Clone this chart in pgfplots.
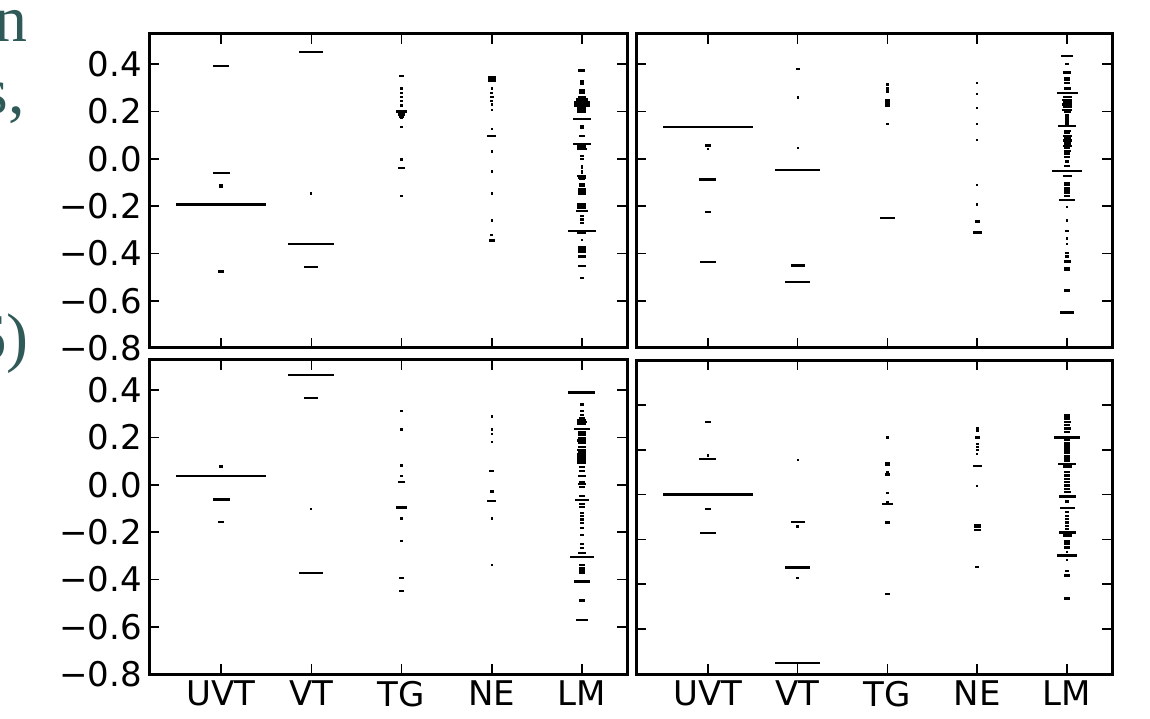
\documentclass[border=0pt]{standalone}
\usepackage{fontspec}
\setmainfont{DejaVu Sans}
\newfontfamily\slidefont{Liberation Serif}
\usepackage{pgfplots}
\pgfplotsset{compat=1.18}
\definecolor{slideteal}{RGB}{47,90,88}
\pgfplotsset{
  panel/.style={
    scale only axis, anchor=south west,
    width=239pt, height=157pt,
    xmin=-0.8, xmax=4.5, ymin=-0.8, ymax=0.528,
    xtick={0,1,2,3,4},
    ytick={-0.8,-0.6,-0.4,-0.2,0,0.2,0.4},
    tick align=inside, xtick pos=both, ytick pos=both,
    xticklabel pos=lower, yticklabel pos=left,
    major tick length=5pt,
    axis line style={line width=1.5pt},
    tick style={line width=0.8pt, black},
    ticklabel style={font=\fontsize{17}{20}\selectfont},
    /pgf/number format/assume math mode=true,
  },
  xlab/.style={xticklabels={UVT,VT,TG,NE,LM}},
  ylab/.style={yticklabels={−0.8,−0.6,−0.4,−0.2,0.0,0.2,0.4}},
  nox/.style={xticklabels={}},
  noy/.style={yticklabels={}},
  strip/.style={draw=none, mark=none,
    error bars/.cd, x dir=both, x explicit, error mark=none,
    error bar style={draw=black, line width=1.15pt, solid}},
}
\begin{document}
\begin{tikzpicture}
\useasboundingbox (0,0) rectangle (575pt,359pt);
\clip (0,0) rectangle (575pt,359pt);
% cropped slide text at left
\node[anchor=base east, inner sep=0, text=slideteal, font=\slidefont\fontsize{33}{36}\selectfont] at (14pt,338pt) {n};
\node[anchor=base east, inner sep=0, text=slideteal, font=\slidefont\fontsize{33}{36}\selectfont] at (12.5pt,302pt) {s,};
\node[anchor=base east, inner sep=0, text=slideteal, font=\slidefont\fontsize{33}{36}\selectfont] at (14.5pt,179pt) {6)};

% ---------------- top left
\begin{axis}[panel, nox, ylab, at={(74.5pt,185pt)}]
\addplot[strip] table[x=x, y=y, x error=e] {
x y e
0 0.393 0.089
0 -0.061 0.095
0 -0.111 0.025
0 -0.119 0.025
0 -0.193 0.50
0 -0.477 0.033
1 0.451 0.133
1 -0.146 0.012
1 -0.360 0.255
1 -0.458 0.078
2 0.349 0.028
2 0.297 0.012
2 0.278 0.012
2 0.261 0.012
2 0.244 0.012
2 0.226 0.012
2 0.200 0.06
2 0.187 0.035
2 0.179 0.025
2 0.173 0.015
2 0.136 0.012
2 -0.003 0.02
2 -0.038 0.04
2 -0.156 0.012
3 0.346 0.045
3 0.336 0.045
3 0.328 0.045
3 0.297 0.012
3 0.278 0.015
3 0.261 0.02
3 0.244 0.015
3 0.230 0.012
3 0.207 0.012
3 0.126 0.012
3 0.097 0.047
3 0.031 0.012
3 -0.053 0.012
3 -0.146 0.012
3 -0.261 0.012
3 -0.321 0.015
3 -0.346 0.035
4 0.374 0.038
4 0.329 0.025
4 0.318 0.025
4 0.289 0.03
4 0.278 0.03
4 0.261 0.04
4 0.251 0.065
4 0.240 0.093
4 0.233 0.093
4 0.226 0.093
4 0.216 0.05
4 0.207 0.05
4 0.199 0.05
4 0.169 0.10
4 0.140 0.025
4 0.131 0.025
4 0.098 0.03
4 0.062 0.098
4 0.052 0.05
4 0.041 0.06
4 0.013 0.02
4 -0.001 0.02
4 -0.030 0.015
4 -0.040 0.015
4 -0.051 0.015
4 -0.061 0.015
4 -0.072 0.05
4 -0.080 0.04
4 -0.086 0.03
4 -0.108 0.035
4 -0.115 0.035
4 -0.129 0.04
4 -0.136 0.04
4 -0.143 0.04
4 -0.150 0.04
4 -0.193 0.05
4 -0.200 0.05
4 -0.207 0.05
4 -0.221 0.065
4 -0.243 0.025
4 -0.257 0.025
4 -0.271 0.025
4 -0.304 0.155
4 -0.313 0.05
4 -0.342 0.012
4 -0.374 0.04
4 -0.384 0.04
4 -0.394 0.04
4 -0.413 0.04
4 -0.454 0.045
4 -0.505 0.025
};
\end{axis}

% ---------------- top right
\begin{axis}[panel, nox, noy, width=238pt, at={(318pt,185pt)}]
\addplot[strip] table[x=x, y=y, x error=e] {
x y e
0 0.135 0.50
0 0.057 0.03
0 0.041 0.015
0 -0.088 0.095
0 -0.226 0.033
0 -0.437 0.093
1 0.379 0.024
1 0.260 0.012
1 0.047 0.012
1 -0.048 0.254
1 -0.451 0.078
1 -0.522 0.137
2 0.314 0.02
2 0.297 0.012
2 0.285 0.012
2 0.247 0.025
2 0.236 0.025
2 0.226 0.03
2 0.148 0.012
2 -0.250 0.087
3 0.320 0.012
3 0.275 0.012
3 0.216 0.012
3 0.148 0.012
3 0.081 0.012
3 -0.112 0.012
3 -0.193 0.012
3 -0.265 0.028
3 -0.312 0.05
4 0.434 0.07
4 0.400 0.025
4 0.365 0.045
4 0.343 0.03
4 0.332 0.03
4 0.322 0.03
4 0.297 0.04
4 0.278 0.117
4 0.261 0.05
4 0.250 0.06
4 0.240 0.05
4 0.230 0.06
4 0.218 0.05
4 0.207 0.06
4 0.197 0.04
4 0.183 0.025
4 0.173 0.025
4 0.162 0.025
4 0.150 0.025
4 0.139 0.10
4 0.119 0.04
4 0.108 0.03
4 0.098 0.05
4 0.088 0.04
4 0.077 0.05
4 0.065 0.04
4 0.055 0.05
4 0.045 0.03
4 0.034 0.04
4 0.023 0.03
4 0.009 0.03
4 -0.011 0.025
4 -0.029 0.03
4 -0.052 0.163
4 -0.072 0.05
4 -0.101 0.035
4 -0.111 0.035
4 -0.122 0.035
4 -0.133 0.035
4 -0.143 0.035
4 -0.157 0.035
4 -0.173 0.093
4 -0.204 0.015
4 -0.261 0.015
4 -0.306 0.025
4 -0.337 0.015
4 -0.359 0.015
4 -0.399 0.02
4 -0.413 0.02
4 -0.434 0.04
4 -0.462 0.03
4 -0.469 0.03
4 -0.557 0.035
4 -0.650 0.076
};
\end{axis}

% ---------------- bottom left
\begin{axis}[panel, xlab, ylab, at={(74.5pt,22pt)}]
\addplot[strip] table[x=x, y=y, x error=e] {
x y e
0 0.078 0.022
0 0.038 0.50
0 -0.062 0.095
0 -0.157 0.033
1 0.464 0.255
1 0.366 0.078
1 -0.101 0.012
1 -0.373 0.133
2 0.312 0.02
2 0.234 0.012
2 0.082 0.012
2 0.038 0.012
2 0.011 0.035
2 -0.096 0.061
2 -0.142 0.012
2 -0.238 0.02
2 -0.394 0.025
2 -0.448 0.025
3 0.289 0.012
3 0.234 0.012
3 0.216 0.012
3 0.180 0.012
3 0.060 0.03
3 -0.028 0.02
3 -0.069 0.05
3 -0.142 0.012
3 -0.338 0.012
4 0.391 0.15
4 0.340 0.025
4 0.312 0.025
4 0.294 0.025
4 0.280 0.03
4 0.272 0.05
4 0.265 0.055
4 0.258 0.05
4 0.235 0.093
4 0.223 0.045
4 0.213 0.045
4 0.199 0.04
4 0.187 0.05
4 0.176 0.04
4 0.159 0.04
4 0.148 0.05
4 0.137 0.04
4 0.128 0.05
4 0.116 0.05
4 0.105 0.05
4 0.095 0.05
4 0.074 0.03
4 0.060 0.03
4 0.038 0.04
4 0.013 0.03
4 0.003 0.04
4 -0.009 0.03
4 -0.048 0.035
4 -0.065 0.078
4 -0.082 0.03
4 -0.094 0.03
4 -0.118 0.02
4 -0.132 0.02
4 -0.146 0.02
4 -0.160 0.02
4 -0.182 0.02
4 -0.213 0.02
4 -0.250 0.025
4 -0.267 0.025
4 -0.288 0.04
4 -0.305 0.13
4 -0.338 0.03
4 -0.352 0.03
4 -0.362 0.03
4 -0.373 0.03
4 -0.409 0.093
4 -0.489 0.035
4 -0.572 0.065
};
\end{axis}

% ---------------- bottom right
\begin{axis}[panel, xlab, noy, width=238pt, ymax=0.6,
  ytick={-0.8,-0.6,-0.4,-0.2,0,0.2,0.4,0.6}, at={(318pt,22pt)}]
\addplot[strip] table[x=x, y=y, x error=e] {
x y e
0 0.324 0.03
0 0.174 0.012
0 0.158 0.095
0 0.001 0.50
0 -0.063 0.03
0 -0.170 0.093
1 0.155 0.012
1 -0.121 0.078
1 -0.142 0.015
1 -0.325 0.137
1 -0.373 0.02
1 -0.752 0.254
2 0.254 0.012
2 0.140 0.03
2 0.133 0.025
2 0.100 0.02
2 0.089 0.028
2 0.006 0.012
2 -0.034 0.015
2 -0.042 0.061
2 -0.125 0.025
2 -0.444 0.03
3 0.294 0.015
3 0.283 0.015
3 0.254 0.03
3 0.224 0.015
3 0.212 0.015
3 0.200 0.015
3 0.182 0.012
3 0.127 0.05
3 0.037 0.012
3 -0.136 0.04
3 -0.146 0.04
3 -0.157 0.04
3 -0.322 0.02
4 0.353 0.035
4 0.339 0.035
4 0.324 0.04
4 0.309 0.035
4 0.294 0.04
4 0.279 0.035
4 0.255 0.143
4 0.242 0.03
4 0.230 0.03
4 0.219 0.03
4 0.209 0.03
4 0.197 0.03
4 0.185 0.03
4 0.173 0.03
4 0.163 0.03
4 0.152 0.03
4 0.137 0.10
4 0.125 0.05
4 0.100 0.035
4 0.085 0.035
4 0.070 0.035
4 0.055 0.035
4 0.040 0.035
4 0.026 0.035
4 0.013 0.04
4 -0.008 0.095
4 -0.031 0.02
4 -0.060 0.083
4 -0.079 0.025
4 -0.094 0.025
4 -0.109 0.025
4 -0.124 0.025
4 -0.139 0.025
4 -0.153 0.025
4 -0.169 0.095
4 -0.183 0.05
4 -0.206 0.03
4 -0.218 0.03
4 -0.236 0.03
4 -0.256 0.012
4 -0.271 0.11
4 -0.292 0.012
4 -0.340 0.025
4 -0.361 0.03
4 -0.464 0.035
};
\end{axis}
\end{tikzpicture}
\end{document}
